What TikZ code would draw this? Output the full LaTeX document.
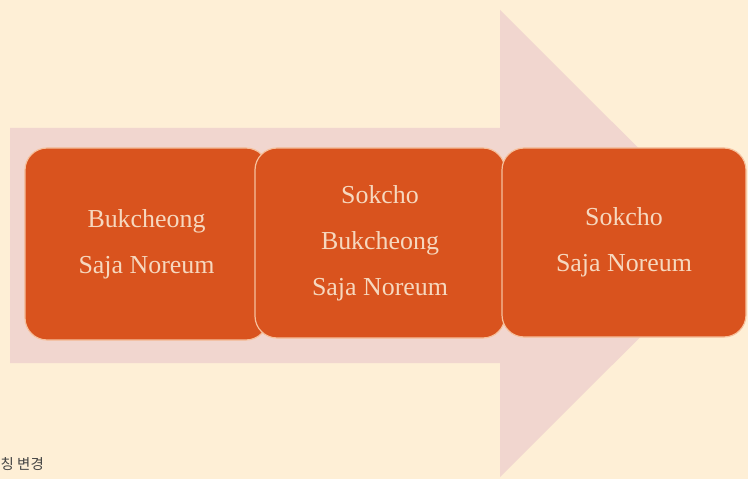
\documentclass[tikz,border=0pt]{standalone}
\usepackage{fontspec}
\setmainfont{Liberation Serif}
\newfontfamily\kofont{Noto Sans CJK KR}
\definecolor{bgc}{HTML}{FEEFD6}
\definecolor{arrowc}{HTML}{F1D6CF}
\definecolor{boxc}{HTML}{D9531E}
\definecolor{boxedge}{HTML}{F6C09C}
\definecolor{txtc}{HTML}{F6D8BF}
\definecolor{kotxt}{HTML}{444444}
\tikzset{
  stage/.style={rectangle, rounded corners=22bp, fill=boxc, draw=boxedge, line width=1.2bp,
    text=txtc, align=center, inner sep=0pt, font=\fontsize{26}{46}\selectfont},
}
\begin{document}
\begin{tikzpicture}[x=1bp,y=-1bp]
\fill[bgc] (0,0) rectangle (748,479);
\useasboundingbox (0,0) rectangle (748,479);
% big background arrow
\fill[arrowc] (10,128) -- (500,128) -- (500,10) -- (734,243.5) -- (500,477) -- (500,363) -- (10,363) -- cycle;
% stages
\node[stage, minimum width=243bp, minimum height=192bp] (s1) at (146.5,244) {Bukcheong\\Saja Noreum};
\node[stage, minimum width=250bp, minimum height=190bp] (s2) at (380,243) {Sokcho\\Bukcheong\\Saja Noreum};
\node[stage, minimum width=244bp, minimum height=189bp] (s3) at (624,242.5) {Sokcho\\Saja Noreum};
% caption fragment
\node[anchor=west, inner sep=0pt, text=kotxt, font=\kofont\fontsize{14.5}{16}\selectfont] (cap) at (0.5,464) {칭 변경};
\end{tikzpicture}
\end{document}
